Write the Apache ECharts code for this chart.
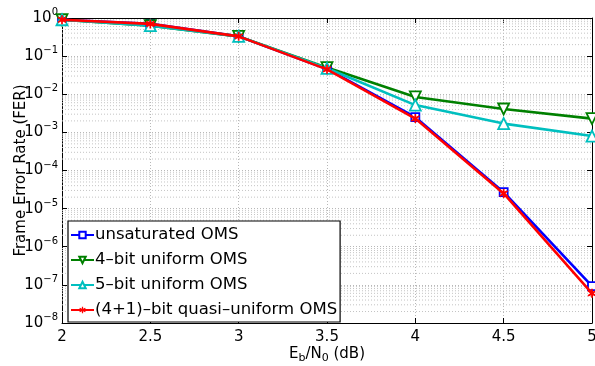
<!DOCTYPE html>
<html><head><meta charset="utf-8">
<script src="https://cdn.jsdelivr.net/npm/echarts@6/dist/echarts.min.js"></script>
<style>html,body{margin:0;padding:0;background:#fff}#c{width:595px;height:366px}</style>
</head><body><div id="c"></div>
<script>
var ebn0 = [2, 2.5, 3, 3.5, 4, 4.5, 5];
var unsaturated = [0.9, 0.7, 0.33, 0.046, 0.0025, 2.7e-5, 9.3e-8];
var bit4 = [0.9, 0.63, 0.33, 0.05, 0.0085, 0.0041, 0.0023];
var bit5 = [0.9, 0.63, 0.33, 0.048, 0.0052, 0.0017, 0.0008];
var quasi = [0.9, 0.7, 0.33, 0.045, 0.0023, 2.5e-5, 6e-8];
var names = ['unsaturated OMS', '4\u2013bit uniform OMS', '5\u2013bit uniform OMS', '(4+1)\u2013bit quasi\u2013uniform OMS'];
var xTicks = [2, 2.5, 3, 3.5, 4, 4.5, 5];

var font = 'DejaVu Sans, Liberation Sans, sans-serif';
function pairs(ys){ return ebn0.map(function(x,i){ return [x, ys[i]]; }); }
var star = 'path://M-1,-6 L1,-6 L1,-2.5 L4.2,-4.3 L5.2,-2.6 L2,-0 L5.2,2.6 L4.2,4.3 L1,2.5 L1,6 L-1,6 L-1,2.5 L-4.2,4.3 L-5.2,2.6 L-2,0 L-5.2,-2.6 L-4.2,-4.3 L-1,-2.5 Z';
function yLabel(v){
  var e = Math.round(Math.log(v)/Math.LN10);
  return '{b|10}{s|' + (e < 0 ? '\u2212' + (-e) : e) + '}';
}
var gridLine = {show:true, lineStyle:{color:'#b8b8b8', type:[1,2], width:1}};
function mk(name, ys, col, sym, rot, size, z, filled){
  return {type:'line', name:name, data:pairs(ys), z:z,
    lineStyle:{width:2.6, color:col}, symbol:sym, symbolRotate:rot, symbolSize:size,
    itemStyle:{color: filled ? col : '#fff', borderColor:col, borderWidth: filled ? 0 : 1.8}};
}
var series = [];
for (var e = -8; e < 0; e++) for (var m = 2; m <= 9; m++) {
  var v = m * Math.pow(10, e);
  series.push({type:'line', name:'_minor', data:[[2, v], [5, v]], z:1, silent:true, symbol:'none',
    lineStyle:{color:'#c4c4c4', type:[1,2], width:1}, emphasis:{disabled:true}, tooltip:{show:false}});
}
series.push(mk(names[0], unsaturated, '#0000ff', 'rect', 0, 8, 3, false));
series.push(mk(names[1], bit4, '#008000', 'triangle', 180, 11, 3, false));
series.push(mk(names[2], bit5, '#00bfbf', 'triangle', 0, 11, 3, false));
series.push(mk(names[3], quasi, '#ff0000', star, 0, 9, 4, true));

var chart = echarts.init(document.getElementById('c'), null, {renderer:'canvas'});
chart.setOption({
  animation:false,
  grid:{left:62, right:3, top:18, bottom:43, containLabel:false, outerBoundsMode:'none'},
  xAxis:[{
    type:'value', min:2, max:5, interval:0.5,
    axisLine:{lineStyle:{color:'#000', width:1}},
    axisTick:{inside:true, length:5, lineStyle:{color:'#000'}},
    axisLabel:{color:'#000', fontFamily:font, fontSize:15, margin:7,
      formatter:function(v){ return xTicks.indexOf(v) >= 0 ? String(v) : ''; }},
    splitLine:gridLine,
    name:'{n|E}{sub|b}{n|/N}{sub|0}{n| (dB)}', nameLocation:'middle', nameGap:21, nameMoveOverlap:false,
    nameTextStyle:{rich:{n:{fontFamily:font,fontSize:15,color:'#000'}, sub:{fontFamily:font,fontSize:11,color:'#000',padding:[9,0,0,0]}}}
  },{
    type:'value', position:'top', min:2, max:5, interval:0.5,
    axisLine:{show:true, lineStyle:{color:'#000'}},
    axisTick:{show:true, inside:true, length:5, lineStyle:{color:'#000'}},
    axisLabel:{show:false}, splitLine:{show:false}
  }],
  yAxis:[{
    type:'log', logBase:10, min:1e-8, max:1, interval:1,
    axisLine:{show:true, lineStyle:{color:'#000'}},
    axisTick:{show:true, inside:true, length:5, lineStyle:{color:'#000'}},
    axisLabel:{color:'#000', margin:4, formatter:yLabel,
      rich:{b:{fontFamily:font,fontSize:15,color:'#000'}, s:{fontFamily:font,fontSize:10,color:'#000',padding:[0,0,11,0]}}},
    splitLine:gridLine,
    name:'Frame Error Rate (FER)', nameLocation:'middle', nameGap:33, nameMoveOverlap:false,
    nameTextStyle:{fontFamily:font, fontSize:15, color:'#000'}
  },{
    type:'log', logBase:10, min:1e-8, max:1, interval:1, position:'right',
    axisLine:{show:true, lineStyle:{color:'#000'}},
    axisTick:{show:true, inside:true, length:5, lineStyle:{color:'#000'}},
    axisLabel:{show:false}, splitLine:{show:false}
  }],
  legend:{
    z:10, left:68, top:221, orient:'vertical', itemGap:7, itemWidth:23, itemHeight:8,
    backgroundColor:'#fff', borderColor:'#000', borderWidth:1.2, borderRadius:0,
    padding:[5,3,3,2],
    textStyle:{fontFamily:font, fontSize:16.5, color:'#000', lineHeight:18, padding:[0,0,0,-4]},
    data:names
  },
  series:series
});
</script></body></html>
